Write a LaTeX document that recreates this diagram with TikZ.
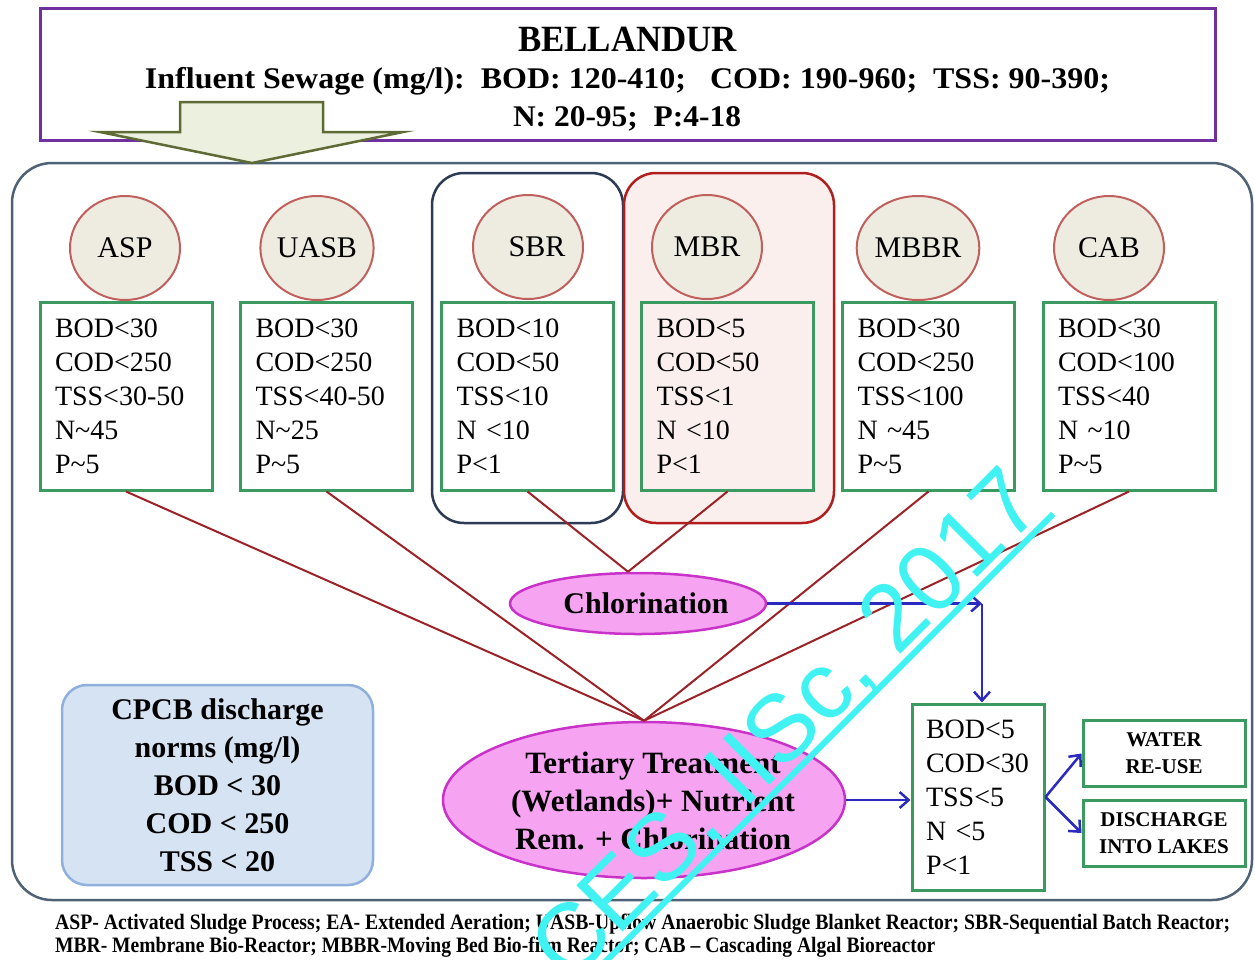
\documentclass[tikz,border=0pt]{standalone}
\usepackage{fontspec}
\usepackage{graphicx}
\setmainfont{Liberation Serif}
\newfontfamily\wmfont{Liberation Sans}
\usetikzlibrary{shapes.geometric,arrows.meta,calc}

\definecolor{titleline}{HTML}{7030A0}
\definecolor{arrowfill}{HTML}{EBF1DE}
\definecolor{arrowline}{HTML}{5E6B35}
\definecolor{frameline}{HTML}{4F6175}
\definecolor{procfill}{HTML}{EEECE1}
\definecolor{procline}{HTML}{C0605C}
\definecolor{boxgreen}{HTML}{3A9A60}
\definecolor{sbrline}{HTML}{2E3B55}
\definecolor{mbrline}{HTML}{B01E1E}
\definecolor{mbrfill}{HTML}{FBEFEE}
\definecolor{feedline}{HTML}{9B2226}
\definecolor{pinkfill}{HTML}{F6A4F2}
\definecolor{pinkline}{HTML}{C832C8}
\definecolor{flowblue}{HTML}{2A2ABF}
\definecolor{cpcbfill}{HTML}{D6E3F3}
\definecolor{cpcbline}{HTML}{8FB0DC}
\definecolor{wmcyan}{HTML}{40F2F2}

\newcommand\setpx[2]{\fontsize{#1}{#2}\selectfont}
\newcommand\fitw[2]{\resizebox{#1}{\height}{#2}}

\begin{document}
\begin{tikzpicture}[x=1pt,y=-1pt,
  titlebox/.style={draw=titleline,line width=3,fill=white,minimum width=1175,minimum height=132,inner sep=0},
  txt/.style={inner sep=0,text=black},
  proc/.style={ellipse,draw=procline,line width=2,fill=procfill,minimum width=110,minimum height=104,inner sep=0,font=\setpx{30}{34}},
  databox/.style={draw=boxgreen,line width=3,minimum width=172,minimum height=188,text width=142,align=left,inner xsep=15,inner ysep=0,font=\setpx{28}{34}},
  finalbox/.style={draw=boxgreen,line width=3,fill=white,minimum width=132,minimum height=186,text width=104,align=left,inner xsep=14,inner ysep=0,font=\setpx{28}{34}},
  outbox/.style={draw=boxgreen,line width=3,fill=white,minimum width=162,minimum height=66,align=center,inner sep=0,font=\setpx{21}{27}\bfseries},
  group/.style={rounded corners=32,line width=2.5},
  pinkell/.style={ellipse,draw=pinkline,line width=2.5,fill=pinkfill,inner sep=0},
  feed/.style={draw=feedline,line width=2},
  flow/.style={draw=flowblue,line width=2.5,-{Straight Barb[length=9pt,width=16pt,line width=2.5pt]}},
  wm/.style={inner sep=0,text=wmcyan,font=\wmfont\setpx{95}{95}}
]
\useasboundingbox (0,0) rectangle (1255,959);
\fill[white] (0,0) rectangle (1255,959);

% outer frame holding all processes
\draw[draw=frameline,line width=2.5,rounded corners=40] (12,163) rectangle (1252,900);

% influent header
\node[titlebox] (title) at (627.5,74) {};
\node[txt,anchor=base,font=\setpx{37}{40}\bfseries] (place) at (627.5,51) {\fitw{219pt}{BELLANDUR}};
\node[txt,anchor=base,font=\setpx{30}{34}\bfseries] (influent) at (627.5,88) {\fitw{965pt}{Influent Sewage (mg/l):\ \ BOD: 120-410;\ \ \ COD: 190-960;\ \ TSS: 90-390;}};
\node[txt,anchor=base,font=\setpx{30}{34}\bfseries] (nutr) at (627,126) {\fitw{228pt}{N: 20-95;\ \ P:4-18}};

% inflow arrow
\draw[fill=arrowfill,draw=arrowline,line width=2.5,line join=miter]
  (180,102) -- (323,102) -- (323,132) -- (403,132) -- (252,163) -- (100,132) -- (180,132) -- cycle;

% highlighted groups
\draw[group,draw=sbrline] (432,173) rectangle (623,523);
\draw[group,draw=mbrline,fill=mbrfill] (624,173) rectangle (834,523);

% treatment processes
\node[proc] (asp)  at (125,248) {ASP};
\node[proc] (uasb) at (317,248) {UASB};
\node[proc] (sbr)  at (528,247) {\hspace*{18pt}SBR};
\node[proc] (mbr)  at (707,247) {MBR};
\node[proc] (mbbr) at (918,248) {MBBR};
\node[proc] (cab)  at (1109,248) {CAB};

% effluent quality of each process
\node[databox] (aspv)  at (126,396)    {BOD<30\\COD<250\\TSS<30-50\\N\textasciitilde45\\P\textasciitilde5};
\node[databox] (uasbv) at (326.5,396)  {BOD<30\\COD<250\\TSS<40-50\\N\textasciitilde25\\P\textasciitilde5};
\node[databox] (sbrv)  at (527.5,396)  {BOD<10\\COD<50\\TSS<10\\N <10\\P<1};
\node[databox] (mbrv)  at (727.5,396)  {BOD<5\\COD<50\\TSS<1\\N <10\\P<1};
\node[databox] (mbbrv) at (928.5,396)  {BOD<30\\COD<250\\TSS<100\\N \textasciitilde45\\P\textasciitilde5};
\node[databox] (cabv)  at (1129,396)   {BOD<30\\COD<100\\TSS<40\\N \textasciitilde10\\P\textasciitilde5};

% polishing steps
\node[pinkell,minimum width=250,minimum height=61,font=\setpx{30}{34}\bfseries] (chl) at (638,603.5) {\hspace*{16pt}Chlorination};
\node[pinkell,minimum width=402,minimum height=156] (tert) at (644,800) {};
\node[txt,align=center,font=\setpx{31}{38}\bfseries] (tertlbl) at (653,801) {Tertiary Treatment\\(Wetlands)+ Nutrient\\Rem. + Chlorination};
\coordinate (chltop) at ($(chl.north)+(-10,0)$);

\draw[feed] (sbrv.south) -- (chltop);
\draw[feed] (mbrv.south) -- (chltop);
\draw[feed] (aspv.south) -- (tert.north);
\draw[feed] (uasbv.south) -- (tert.north);
\draw[feed] (mbbrv.south) -- (tert.north);
\draw[feed] (cabv.south) -- (tert.north);

% final effluent and its uses
\node[finalbox] (fin) at (978,797) {BOD<5\\COD<30\\TSS<5\\N <5\\P<1};
\node[outbox] (reuse) at (1164,753.5) {WATER\\RE-USE};
\node[outbox] (lakes) at (1164,833) {DISCHARGE\\INTO LAKES};

\coordinate (turn) at (982,603.5);
\draw[flow] (chl.east) -- (turn);
\draw[flow] (turn) -- (turn |- fin.north);
\draw[flow] (tert.east) -- (tert.east -| fin.west);
\draw[flow] (fin.east) -- (reuse.west);
\draw[flow] (fin.east) -- (lakes.west);

% discharge norms
\node[draw=cpcbline,fill=cpcbfill,line width=2.5,rounded corners=25,minimum width=311,minimum height=200,align=center,inner sep=0,font=\setpx{30}{38}\bfseries] (cpcb) at (217.5,785)
  {CPCB discharge\\norms (mg/l)\\BOD < 30\\COD < 250\\TSS < 20};

% abbreviations
\node[txt,anchor=base west,font=\setpx{22}{24}\bfseries] (abbr1) at (55,929) {\fitw{1175pt}{ASP- Activated Sludge Process; EA- Extended Aeration; UASB-Upflow Anaerobic Sludge Blanket Reactor; SBR-Sequential Batch Reactor;}};
\node[txt,anchor=base west,font=\setpx{22}{24}\bfseries] (abbr2) at (55,952) {\fitw{880pt}{MBR- Membrane Bio-Reactor; MBBR-Moving Bed Bio-film Reactor; CAB -- Cascading Algal Bioreactor}};

% stamp
\node[wm,rotate=45,anchor=base west] (stamp) at (569,986) {CES, IISc, 2017};
\draw[draw=wmcyan,line width=6] ($(stamp.base west)+(6,6)$) -- ($(stamp.base east)+(6,6)$);
\end{tikzpicture}
\end{document}
